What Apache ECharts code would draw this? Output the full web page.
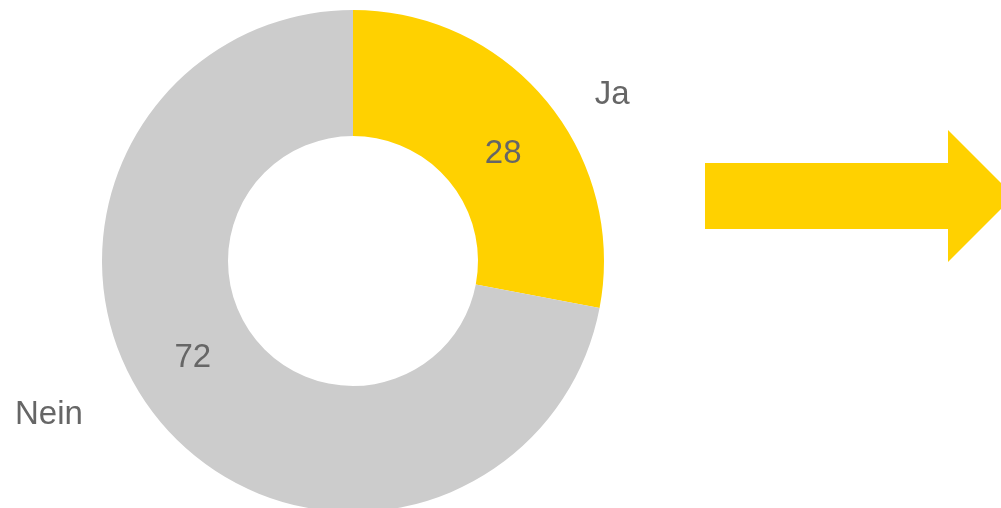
<!DOCTYPE html>
<html>
<head>
<meta charset="utf-8">
<script src="https://cdn.jsdelivr.net/npm/echarts@6/dist/echarts.min.js"></script>
<style>
  html, body { margin: 0; padding: 0; background: #fff; }
  #chart { width: 1001px; height: 508px; }
</style>
</head>
<body>
<div id="chart"></div>
<script>
const categories = ['Ja', 'Nein']
const values = [28, 72]
const colors = ['#FFD100', '#CCCCCC']

const valueOffsets = [[3, 15], [-13, -25]]
const nameOffsets = [[6, 43], [-51, -55]]

const chart = echarts.init(document.getElementById('chart'))

const pieData = categories.map((name, i) => ({
  name: name,
  value: values[i],
  itemStyle: { color: colors[i] },
  label: { offset: valueOffsets[i] }
}))

// transparent ring, only carries the category names
const nameData = categories.map((name, i) => ({
  name: name,
  value: values[i],
  itemStyle: { color: 'rgba(0,0,0,0)' },
  label: { offset: nameOffsets[i] }
}))

chart.setOption({
  animation: false,
  graphic: [
    {
      type: 'polygon',
      shape: {
        points: [[705, 163], [948, 163], [948, 130], [1014, 196], [948, 262], [948, 229], [705, 229]]
      },
      style: { fill: '#FFD100' }
    }
  ],
  series: [
    {
      type: 'pie',
      center: [353, 261],
      radius: [125, 251],
      startAngle: 90,
      silent: true,
      label: {
        show: true,
        position: 'inside',
        formatter: '{c}',
        color: '#666666',
        fontSize: 33,
        fontFamily: 'Liberation Sans, Arial, sans-serif'
      },
      labelLine: { show: false },
      data: pieData
    },
    {
      type: 'pie',
      center: [353, 261],
      radius: [251, 400],
      startAngle: 90,
      silent: true,
      label: {
        show: true,
        position: 'inside',
        formatter: '{b}',
        color: '#666666',
        fontSize: 33,
        fontFamily: 'Liberation Sans, Arial, sans-serif'
      },
      labelLine: { show: false },
      data: nameData
    }
  ]
})
</script>
</body>
</html>
